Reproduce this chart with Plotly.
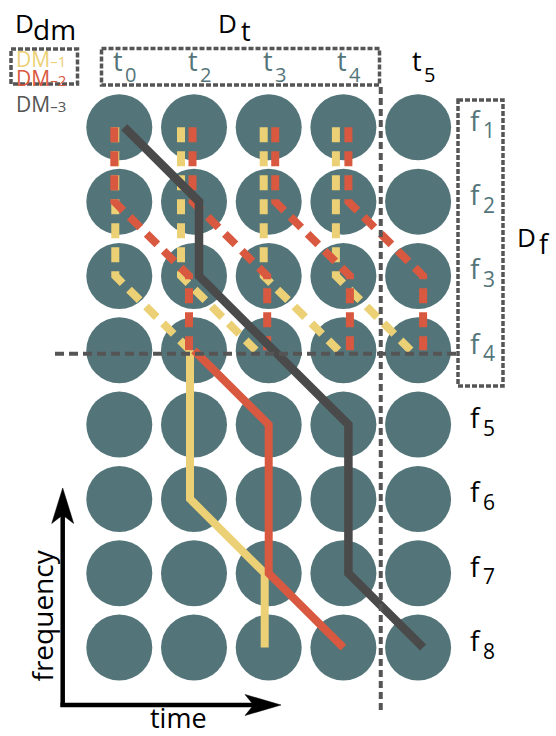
import plotly.graph_objects as go

W, H = 556, 736

# ---------------- data ----------------
time_idx = [0, 1, 2, 3, 4]
time_sub = ["0", "2", "3", "4", "5"]
freq_idx = [1, 2, 3, 4, 5, 6, 7, 8]
freq_sub = ["1", "2", "3", "4", "5", "6", "7", "8"]
dm_labels = ["DM", "DM", "DM"]
dm_subs = ["–1", "–2", "–3"]

# trajectories as (time index, frequency index)
dm1_t = [0, 0, 1, 1, 2, 2]
dm1_f = [1, 3, 4, 6, 7, 8]
dm2_t = [0, 0, 1, 1, 2, 2, 3]
dm2_f = [1, 2, 3, 4, 5, 7, 8]
dm3_t = [0, 1, 1, 3, 3, 4]
dm3_f = [1, 2, 3, 5, 7, 8]

cand_starts = [0, 1, 2, 3]   # candidate start times (t0, t2, t3, t4)
f_cut = 4                    # last known frequency (f4)
known_t = 3                  # last known time column (t4)

# ---------------- style ----------------
C_CIRCLE = "#537579"
C_TEAL = "#537579"
C_Y = "#ECD076"
C_R = "#D95940"
C_K = "#4A4A4A"
C_BOX = "#555555"
FONT = "Open Sans"

X0, DX = 119.3, 74.7      # pixel of column 0, pixel per column
Y0, DY = 127.3, 74.33     # pixel of row 1, pixel per row
xr = [-X0 / DX, (W - X0) / DX]
yr = [1 + (H - Y0) / DY, 1 - Y0 / DY]

def px(x):
    return x / W

def py(y):
    return 1 - y / H

def tpx(t):
    return X0 + DX * t

def fpx(f):
    return Y0 + DY * (f - 1)

fig = go.Figure()

# grid of circles
cx, cy = [], []
for f in freq_idx:
    for t in time_idx:
        cx.append(t)
        cy.append(f)
fig.add_trace(go.Scatter(x=cx, y=cy, mode="markers",
                         marker=dict(size=66, color=C_CIRCLE, line=dict(width=0)),
                         hoverinfo="skip", showlegend=False))

def split(ts, fs):
    dashed = [(t, f) for t, f in zip(ts, fs) if f <= f_cut]
    solid = [(t, f) for t, f in zip(ts, fs) if f >= f_cut]
    return dashed, solid

dash_pat = "15px,9px"
y_off = [-4, -13, -5, -7.5]
r_off = [-5, -1.5, 6.5, 5]

d1, s1 = split(dm1_t, dm1_f)
d2, s2 = split(dm2_t, dm2_f)

# dashed candidate trajectories (yellow)
for s, off in zip(cand_starts, y_off):
    fig.add_trace(go.Scatter(x=[p[0] + s + off / DX for p in d1], y=[p[1] for p in d1],
                             mode="lines", line=dict(color=C_Y, width=8, dash=dash_pat),
                             hoverinfo="skip", showlegend=False))
# dashed candidate trajectories (red)
for s, off in zip(cand_starts, r_off):
    fig.add_trace(go.Scatter(x=[p[0] + s + off / DX for p in d2], y=[p[1] for p in d2],
                             mode="lines", line=dict(color=C_R, width=8, dash=dash_pat),
                             hoverinfo="skip", showlegend=False))

# solid parts
fig.add_trace(go.Scatter(x=[p[0] - 4 / DX for p in s1], y=[p[1] for p in s1],
                         mode="lines", line=dict(color=C_Y, width=8),
                         hoverinfo="skip", showlegend=False))
fig.add_trace(go.Scatter(x=[p[0] for p in s2], y=[p[1] for p in s2],
                         mode="lines", line=dict(color=C_R, width=8),
                         hoverinfo="skip", showlegend=False))
fig.add_trace(go.Scatter(x=[t + 5 / DX for t in dm3_t], y=dm3_f,
                         mode="lines", line=dict(color=C_K, width=8.5),
                         hoverinfo="skip", showlegend=False))

shapes = []
# dashed separators
xsep = (tpx(known_t) + tpx(known_t + 1)) / 2
shapes.append(dict(type="line", xref="paper", yref="paper", layer="above",
                   x0=px(xsep), x1=px(xsep), y0=py(87), y1=py(710),
                   line=dict(color=C_BOX, width=4, dash="7px,4px")))
ysep = fpx(f_cut) + 3.5
shapes.append(dict(type="line", xref="paper", yref="paper", layer="above",
                   x0=px(55), x1=px(457), y0=py(ysep), y1=py(ysep),
                   line=dict(color=C_BOX, width=4, dash="9px,5px")))
# dashed boxes
for (x0, y0, x1, y1) in [(11, 49, 77.5, 84), (101.5, 48.5, 379.5, 85), (458, 100, 503, 386)]:
    shapes.append(dict(type="rect", xref="paper", yref="paper", layer="above",
                       x0=px(x0), x1=px(x1), y0=py(y0), y1=py(y1),
                       line=dict(color=C_BOX, width=3.5, dash="5px,2px")))
# axes arrows
shapes.append(dict(type="line", xref="paper", yref="paper",
                   x0=px(62.7), x1=px(62.7), y0=py(707), y1=py(512),
                   line=dict(color="black", width=4.5)))
shapes.append(dict(type="line", xref="paper", yref="paper",
                   x0=px(60.5), x1=px(256), y0=py(705), y1=py(705),
                   line=dict(color="black", width=4.5)))

def path(pts):
    return "M" + " L".join(f"{px(a):.5f},{py(b):.5f}" for a, b in pts) + " Z"

shapes.append(dict(type="path", xref="paper", yref="paper",
                   path=path([(62.7, 488), (51.7, 523.5), (62.7, 515), (73.7, 523.5)]),
                   fillcolor="black", line=dict(color="black", width=0.5)))
shapes.append(dict(type="path", xref="paper", yref="paper",
                   path=path([(281, 705), (245, 694.5), (253.5, 705), (245, 715.5)]),
                   fillcolor="black", line=dict(color="black", width=0.5)))

anns = []

def ann(text, x, y, size, color, xanchor="left", angle=0):
    anns.append(dict(text=text, x=px(x), y=py(y), xref="paper", yref="paper",
                     xanchor=xanchor, yanchor="middle", showarrow=False,
                     textangle=angle, font=dict(family=FONT, size=size, color=color)))

# headers
ann("D", 13, 23, 26, "black")
ann("dm", 31, 29.5, 28, "black")
ann("D", 216, 23, 26, "black")
ann("t", 239, 30, 27, "black")
ann("D", 515, 237, 26, "black")
ann("f", 537, 243, 27, "black")

# DM legend
for i, (lab, sub, col) in enumerate(zip(dm_labels, dm_subs, [C_Y, C_R, "#555555"])):
    yb = [67, 86, 112][i]
    ann(f"{lab}<span style='font-size:15px'>{sub}</span>", 14, yb - 8, 21, col)

# time labels
for t, sub in zip(time_idx, time_sub):
    col = C_TEAL if t <= known_t else "black"
    ann("t", tpx(t) - 1, 60.5, 27, col, xanchor="center")
    ann(sub, tpx(t) + 4, 74, 20, col)

# frequency labels
for f, sub in zip(freq_idx, freq_sub):
    col = C_TEAL if f <= f_cut else "black"
    ann("f", 475, fpx(f) - 7.5, 28, col, xanchor="center")
    ann(sub, 481, fpx(f) + 3, 21, col)

# axis titles
ann("frequency", 41, 615.5, 28, "black", xanchor="center", angle=-90)
ann("time", 178, 717.5, 27, "black", xanchor="center")

fig.update_layout(
    width=W, height=H, margin=dict(l=0, r=0, t=0, b=0),
    paper_bgcolor="white", plot_bgcolor="white",
    xaxis=dict(range=xr, visible=False, fixedrange=True),
    yaxis=dict(range=yr, visible=False, fixedrange=True),
    shapes=shapes, annotations=anns, showlegend=False,
)

fig.write_html("out.html", config={"displayModeBar": False},
               post_script="document.body.style.margin='0px';document.body.style.overflow='hidden';")
